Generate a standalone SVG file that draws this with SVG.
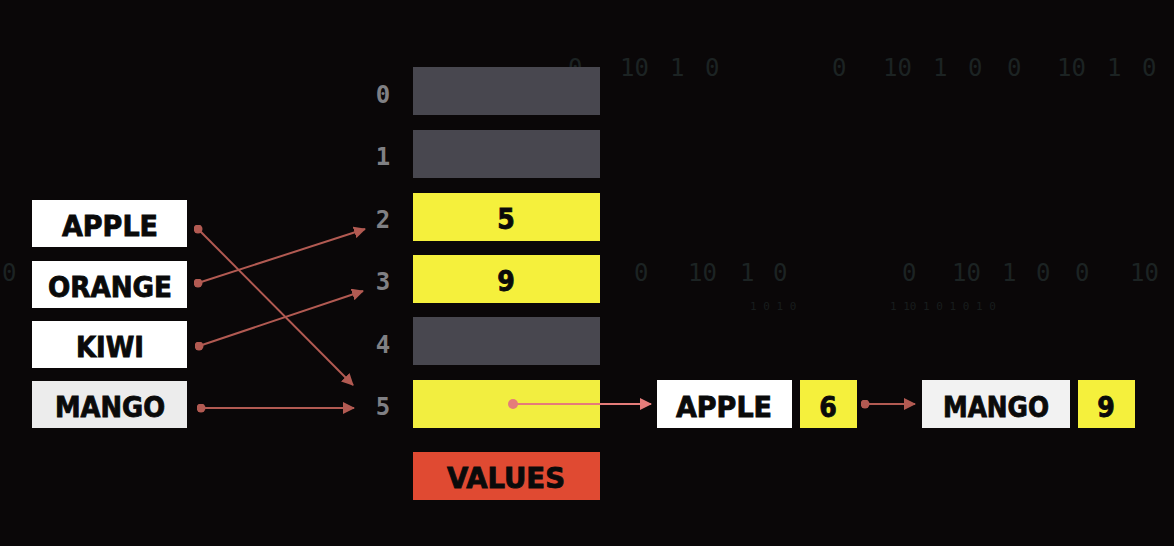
<svg xmlns="http://www.w3.org/2000/svg" width="1174" height="546" viewBox="0 0 1174 546">
<style>
.bg{fill:#0a0708}
.bgd{font-family:"DejaVu Sans Mono","Liberation Mono",monospace;font-size:24px;fill:#1c2323}
.bgs{font-family:"DejaVu Sans Mono","Liberation Mono",monospace;font-size:11px;fill:#181d1d}
.key{fill:#ffffff}
.lbl{font-family:"DejaVu Sans Condensed","DejaVu Sans",sans-serif;font-weight:bold;font-size:28px;fill:#0a0a0a;stroke:#0a0a0a;stroke-width:0.8;text-anchor:middle}
.idx{font-family:"DejaVu Sans Mono","Liberation Mono",monospace;font-weight:bold;font-size:24px;fill:#808084;text-anchor:middle}
.empty{fill:#48474f}
.full{fill:#f5f03c}
.val{fill:#f2ee40}
.arr{stroke:#b25a52;stroke-width:2;fill:none}
.arr2{stroke:#e57c7a;stroke-width:2;fill:none}
</style>
<defs>
<marker id="ah" viewBox="0 0 12 12" refX="11" refY="6" markerWidth="12" markerHeight="12" markerUnits="userSpaceOnUse" orient="auto">
<path d="M0,0 L12,6 L0,12 z" fill="#b25a52"/>
</marker>
<marker id="ah2" viewBox="0 0 12 12" refX="11" refY="6" markerWidth="12" markerHeight="12" markerUnits="userSpaceOnUse" orient="auto">
<path d="M0,0 L12,6 L0,12 z" fill="#e57c7a"/>
</marker>
<marker id="dot" viewBox="0 0 10 10" refX="5" refY="5" markerWidth="9" markerHeight="9" markerUnits="userSpaceOnUse">
<circle cx="5" cy="5" r="5" fill="#b25a52"/>
</marker>
<marker id="dot2" viewBox="0 0 10 10" refX="5" refY="5" markerWidth="10" markerHeight="10" markerUnits="userSpaceOnUse">
<circle cx="5" cy="5" r="5" fill="#e57c7a"/>
</marker>
</defs>
<rect class="bg" x="0" y="0" width="1174" height="546"/>
<g id="background-digits">
<text class="bgd" x="568" y="76">0</text>
<text class="bgd" x="620" y="76">10</text>
<text class="bgd" x="670" y="76">1</text>
<text class="bgd" x="705" y="76">0</text>
<text class="bgd" x="832" y="76">0</text>
<text class="bgd" x="883" y="76">10</text>
<text class="bgd" x="933" y="76">1</text>
<text class="bgd" x="968" y="76">0</text>
<text class="bgd" x="1007" y="76">0</text>
<text class="bgd" x="1057" y="76">10</text>
<text class="bgd" x="1107" y="76">1</text>
<text class="bgd" x="1142" y="76">0</text>
<text class="bgd" x="634" y="281">0</text>
<text class="bgd" x="688" y="281">10</text>
<text class="bgd" x="740" y="281">1</text>
<text class="bgd" x="773" y="281">0</text>
<text class="bgd" x="902" y="281">0</text>
<text class="bgd" x="952" y="281">10</text>
<text class="bgd" x="1002" y="281">1</text>
<text class="bgd" x="1036" y="281">0</text>
<text class="bgd" x="1075" y="281">0</text>
<text class="bgd" x="1130" y="281">10</text>
<text class="bgd" x="2" y="281">0</text>
<text class="bgs" x="750" y="310">1 0 1 0</text>
<text class="bgs" x="890" y="310">1 10 1 0 1 0 1 0</text>
</g>
<g id="index-labels">
<text class="idx" x="383" y="103">0</text>
<text class="idx" x="383" y="165">1</text>
<text class="idx" x="383" y="228">2</text>
<text class="idx" x="383" y="290">3</text>
<text class="idx" x="383" y="353">4</text>
<text class="idx" x="383" y="415">5</text>
</g>
<g id="key-apple"><rect class="key" x="32" y="200" width="155" height="47"/><text class="lbl" x="110" y="236" textLength="96" lengthAdjust="spacingAndGlyphs">APPLE</text></g>
<g id="key-orange"><rect class="key" x="32" y="261" width="155" height="47"/><text class="lbl" x="110" y="297" textLength="124" lengthAdjust="spacingAndGlyphs">ORANGE</text></g>
<g id="key-kiwi"><rect class="key" x="32" y="321" width="155" height="47"/><text class="lbl" x="110" y="357" textLength="68" lengthAdjust="spacingAndGlyphs">KIWI</text></g>
<g id="key-mango"><rect x="32" y="381" width="155" height="47" fill="#ececec"/><text class="lbl" x="110" y="417" textLength="110" lengthAdjust="spacingAndGlyphs">MANGO</text></g>
<g id="bucket-0"><rect class="empty" x="413" y="67" width="187" height="48"/></g>
<g id="bucket-1"><rect class="empty" x="413" y="130" width="187" height="48"/></g>
<g id="bucket-2"><rect class="full" x="413" y="193" width="187" height="48"/><text class="lbl" x="506" y="229">5</text></g>
<g id="bucket-3"><rect class="full" x="413" y="255" width="187" height="48"/><text class="lbl" x="506" y="291">9</text></g>
<g id="bucket-4"><rect class="empty" x="413" y="317" width="187" height="48"/></g>
<g id="bucket-5"><rect class="val" x="413" y="380" width="187" height="48"/></g>
<g id="values-label"><rect x="413" y="452" width="187" height="48" fill="#e04a32"/><text class="lbl" x="506" y="488" textLength="118" lengthAdjust="spacingAndGlyphs">VALUES</text></g>
<g id="chain-apple"><rect class="key" x="657" y="380" width="135" height="48"/><text class="lbl" x="724" y="417" textLength="96" lengthAdjust="spacingAndGlyphs">APPLE</text><rect class="full" x="800" y="380" width="57" height="48"/><text class="lbl" x="828" y="417">6</text></g>
<g id="chain-mango"><rect x="922" y="380" width="148" height="48" fill="#f2f2f2"/><text class="lbl" x="996" y="417" textLength="106" lengthAdjust="spacingAndGlyphs">MANGO</text><rect class="full" x="1078" y="380" width="57" height="48"/><text class="lbl" x="1106" y="417">9</text></g>
<g id="connectors">
<line class="arr" x1="198" y1="229" x2="353" y2="385" marker-start="url(#dot)" marker-end="url(#ah)"/>
<line class="arr" x1="198" y1="283" x2="365" y2="229" marker-start="url(#dot)" marker-end="url(#ah)"/>
<line class="arr" x1="199" y1="346" x2="363" y2="291" marker-start="url(#dot)" marker-end="url(#ah)"/>
<line class="arr" x1="201" y1="408" x2="354" y2="408" marker-start="url(#dot)" marker-end="url(#ah)"/>
<line class="arr2" x1="513" y1="404" x2="651" y2="404" marker-start="url(#dot2)" marker-end="url(#ah2)"/>
<line class="arr" x1="865" y1="404" x2="915" y2="404" marker-start="url(#dot)" marker-end="url(#ah)"/>
</g>
</svg>
